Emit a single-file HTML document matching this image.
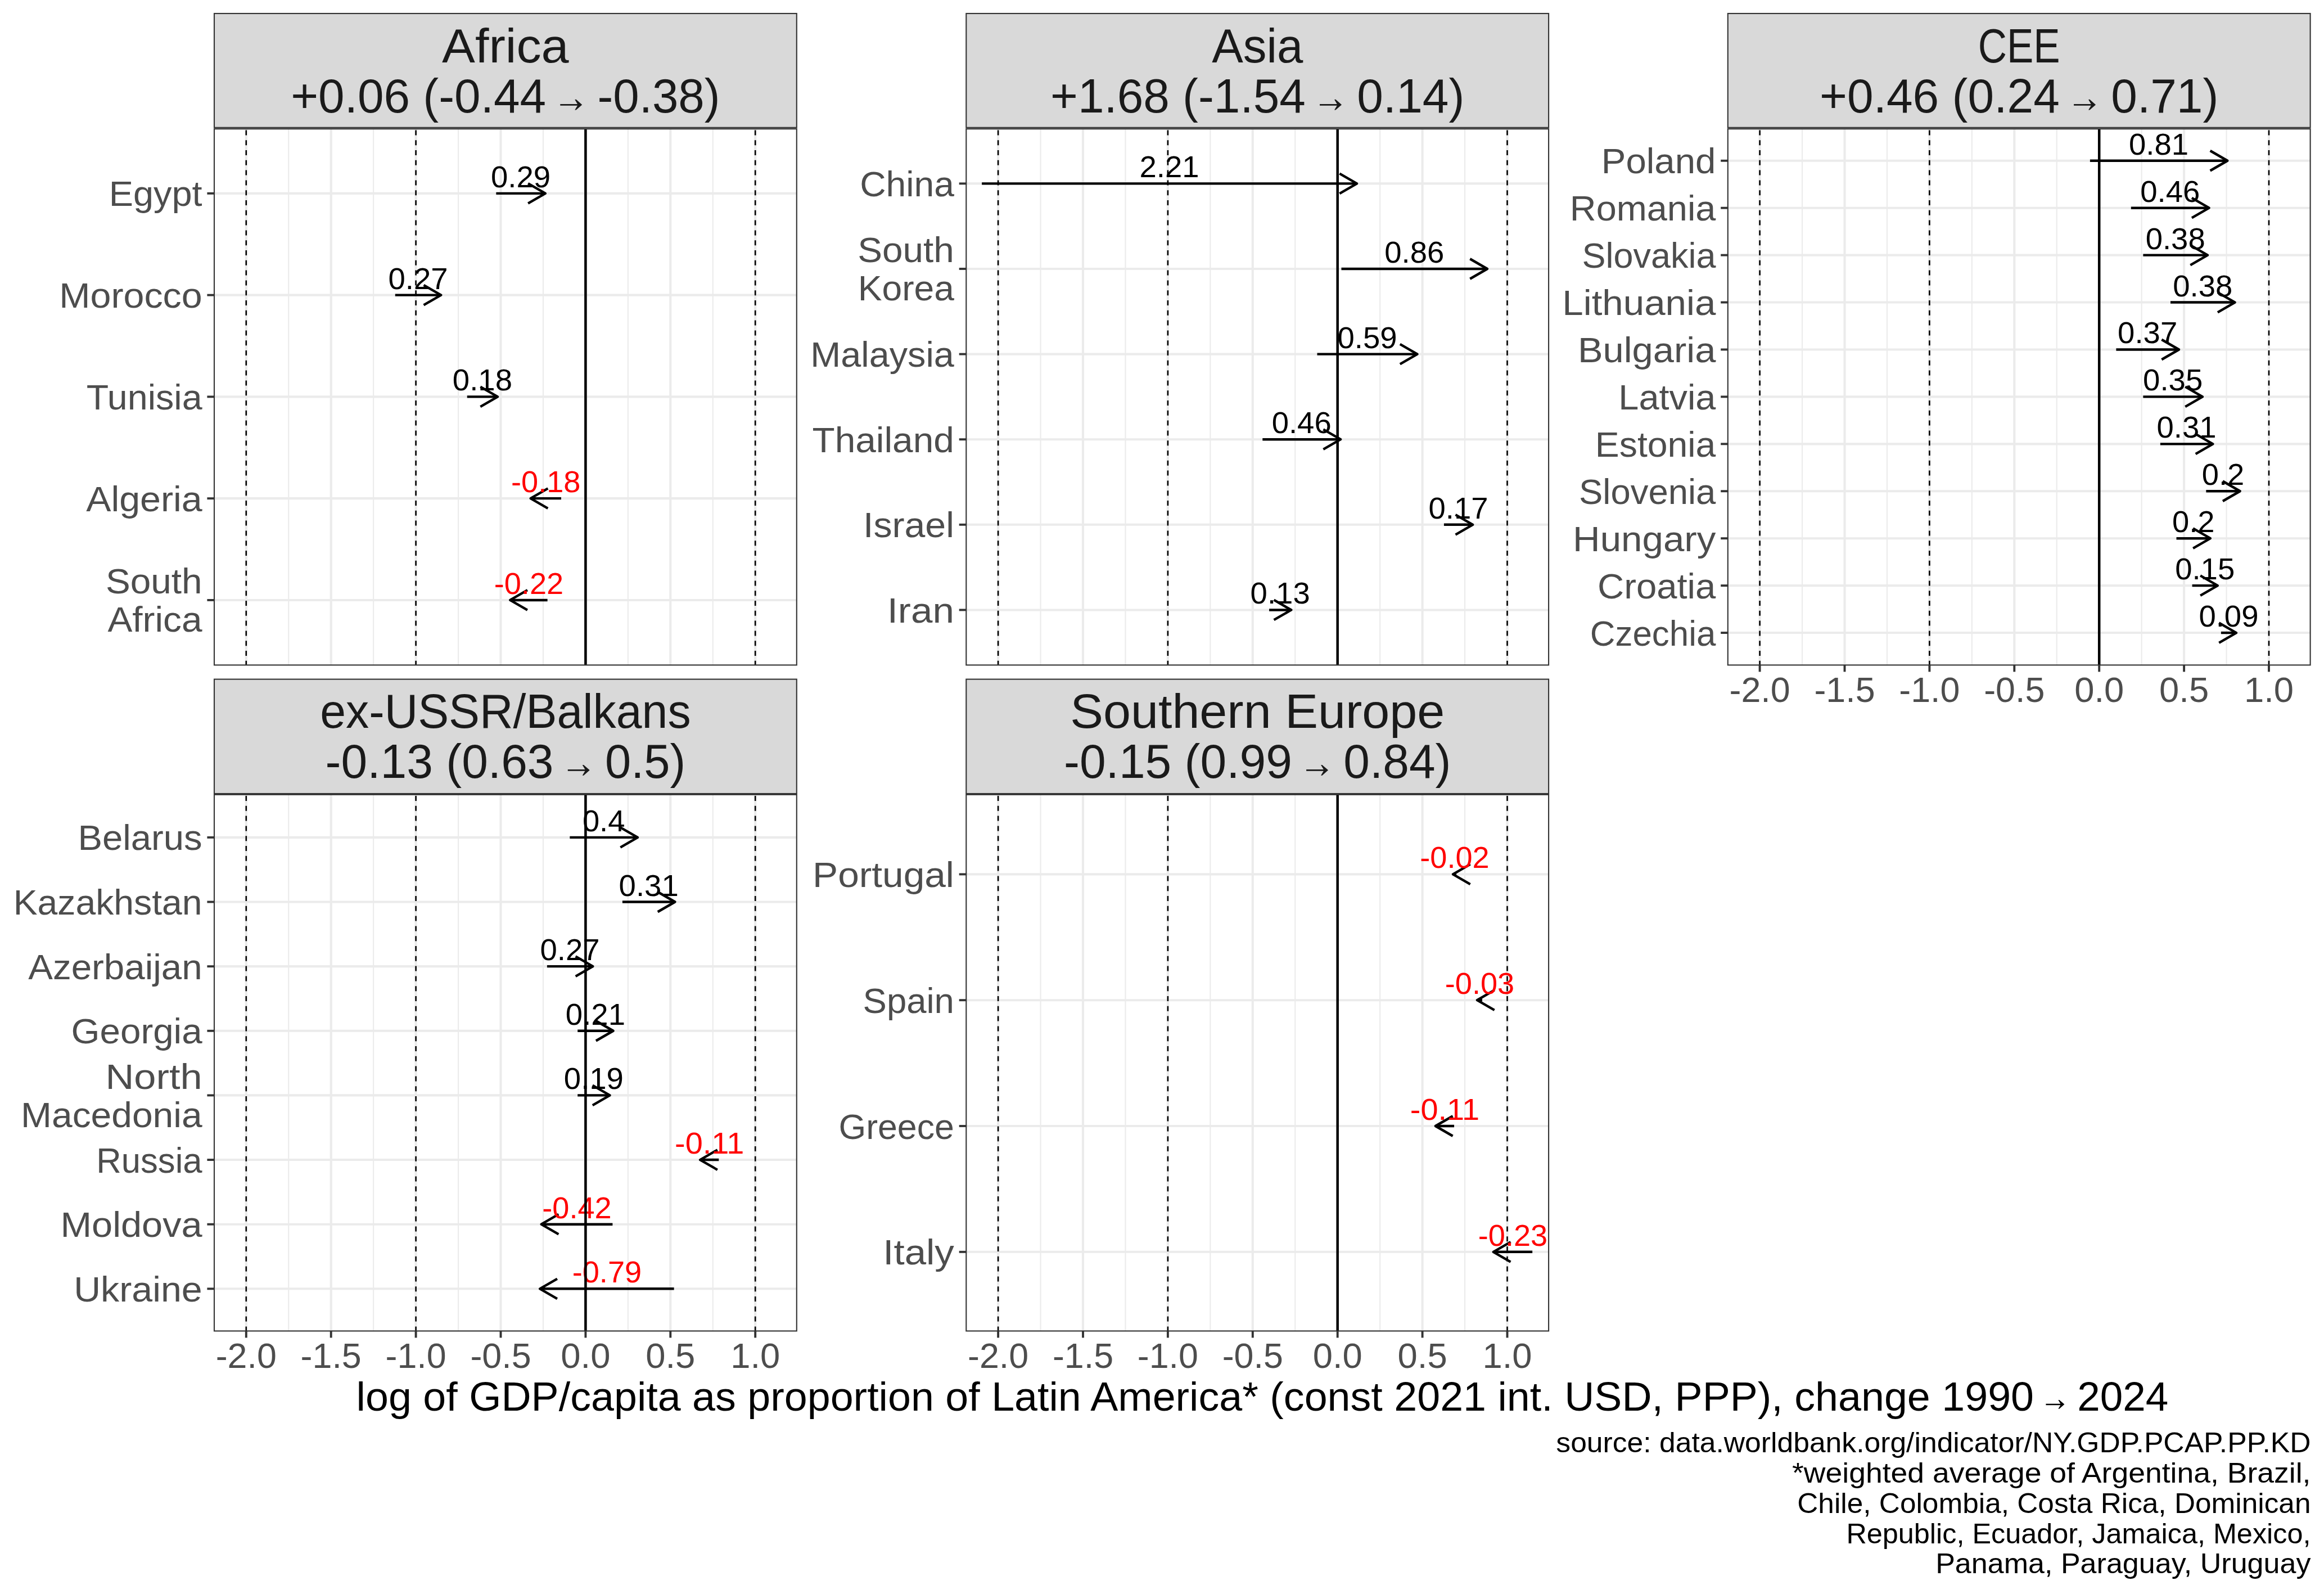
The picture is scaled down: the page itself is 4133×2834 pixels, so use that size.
<!DOCTYPE html>
<html><head><meta charset="utf-8"><title>GDP per capita chart</title>
<style>html,body{margin:0;padding:0;background:#fff;}svg{display:block;}</style>
</head><body>
<svg width="4133" height="2834" viewBox="0 0 4133 2834" font-family='"Liberation Sans", sans-serif'>
<rect x="0" y="0" width="4133" height="2834" fill="#FFFFFF"/>
<rect x="381" y="229.2" width="1035.8" height="953.2" fill="#FFFFFF"/>
<line x1="513.25" y1="229.2" x2="513.25" y2="1182.4" stroke="#EBEBEB" stroke-width="2.1"/>
<line x1="664.15" y1="229.2" x2="664.15" y2="1182.4" stroke="#EBEBEB" stroke-width="2.1"/>
<line x1="815.05" y1="229.2" x2="815.05" y2="1182.4" stroke="#EBEBEB" stroke-width="2.1"/>
<line x1="965.95" y1="229.2" x2="965.95" y2="1182.4" stroke="#EBEBEB" stroke-width="2.1"/>
<line x1="1116.85" y1="229.2" x2="1116.85" y2="1182.4" stroke="#EBEBEB" stroke-width="2.1"/>
<line x1="1267.75" y1="229.2" x2="1267.75" y2="1182.4" stroke="#EBEBEB" stroke-width="2.1"/>
<line x1="437.8" y1="229.2" x2="437.8" y2="1182.4" stroke="#EBEBEB" stroke-width="4.1"/>
<line x1="588.7" y1="229.2" x2="588.7" y2="1182.4" stroke="#EBEBEB" stroke-width="4.1"/>
<line x1="739.6" y1="229.2" x2="739.6" y2="1182.4" stroke="#EBEBEB" stroke-width="4.1"/>
<line x1="890.5" y1="229.2" x2="890.5" y2="1182.4" stroke="#EBEBEB" stroke-width="4.1"/>
<line x1="1041.4" y1="229.2" x2="1041.4" y2="1182.4" stroke="#EBEBEB" stroke-width="4.1"/>
<line x1="1192.3" y1="229.2" x2="1192.3" y2="1182.4" stroke="#EBEBEB" stroke-width="4.1"/>
<line x1="1343.2" y1="229.2" x2="1343.2" y2="1182.4" stroke="#EBEBEB" stroke-width="4.1"/>
<line x1="381" y1="343.86" x2="1416.8" y2="343.86" stroke="#EBEBEB" stroke-width="4.1"/>
<line x1="381" y1="524.63" x2="1416.8" y2="524.63" stroke="#EBEBEB" stroke-width="4.1"/>
<line x1="381" y1="705.4" x2="1416.8" y2="705.4" stroke="#EBEBEB" stroke-width="4.1"/>
<line x1="381" y1="886.17" x2="1416.8" y2="886.17" stroke="#EBEBEB" stroke-width="4.1"/>
<line x1="381" y1="1066.94" x2="1416.8" y2="1066.94" stroke="#EBEBEB" stroke-width="4.1"/>
<line x1="882.35" y1="343.86" x2="969.87" y2="343.86" stroke="#000000" stroke-width="4.4"/>
<polyline points="939.13,326.11 969.87,343.86 939.13,361.61" fill="none" stroke="#000000" stroke-width="4.4" stroke-linejoin="round"/>
<line x1="702.78" y1="524.63" x2="784.27" y2="524.63" stroke="#000000" stroke-width="4.4"/>
<polyline points="753.52,506.88 784.27,524.63 753.52,542.38" fill="none" stroke="#000000" stroke-width="4.4" stroke-linejoin="round"/>
<line x1="830.74" y1="705.4" x2="885.07" y2="705.4" stroke="#000000" stroke-width="4.4"/>
<polyline points="854.32,687.65 885.07,705.4 854.32,723.15" fill="none" stroke="#000000" stroke-width="4.4" stroke-linejoin="round"/>
<line x1="997.94" y1="886.17" x2="943.62" y2="886.17" stroke="#000000" stroke-width="4.4"/>
<polyline points="974.36,868.42 943.62,886.17 974.36,903.92" fill="none" stroke="#000000" stroke-width="4.4" stroke-linejoin="round"/>
<line x1="973.62" y1="1066.94" x2="907.22" y2="1066.94" stroke="#000000" stroke-width="4.4"/>
<polyline points="937.96,1049.19 907.22,1066.94 937.96,1084.69" fill="none" stroke="#000000" stroke-width="4.4" stroke-linejoin="round"/>
<text x="926.11" y="332.86" font-size="54.04" fill="#000000" text-anchor="middle" textLength="106.14" lengthAdjust="spacingAndGlyphs">0.29</text>
<text x="743.52" y="513.63" font-size="54.04" fill="#000000" text-anchor="middle" textLength="106.14" lengthAdjust="spacingAndGlyphs">0.27</text>
<text x="857.91" y="694.4" font-size="54.04" fill="#000000" text-anchor="middle" textLength="106.14" lengthAdjust="spacingAndGlyphs">0.18</text>
<text x="970.78" y="875.17" font-size="54.04" fill="#FF0000" text-anchor="middle" textLength="123.37" lengthAdjust="spacingAndGlyphs">-0.18</text>
<text x="940.42" y="1055.94" font-size="54.04" fill="#FF0000" text-anchor="middle" textLength="123.37" lengthAdjust="spacingAndGlyphs">-0.22</text>
<line x1="437.8" y1="231.4" x2="437.8" y2="1182.4" stroke="#000000" stroke-width="2.6" stroke-dasharray="9 8.8"/>
<line x1="739.6" y1="231.4" x2="739.6" y2="1182.4" stroke="#000000" stroke-width="2.6" stroke-dasharray="9 8.8"/>
<line x1="1343.2" y1="231.4" x2="1343.2" y2="1182.4" stroke="#000000" stroke-width="2.6" stroke-dasharray="9 8.8"/>
<line x1="1041.4" y1="229.2" x2="1041.4" y2="1182.4" stroke="#000000" stroke-width="4.5"/>
<rect x="381" y="229.2" width="1035.8" height="953.2" fill="none" stroke="#333333" stroke-width="2.1"/>
<rect x="381" y="24" width="1035.8" height="202.8" fill="#D9D9D9" stroke="#333333" stroke-width="2.1"/>
<text x="898.9" y="111.2" font-size="84.54" fill="#1A1A1A" text-anchor="middle" textLength="225.57" lengthAdjust="spacingAndGlyphs">Africa</text>
<text x="517.23" y="199.7" font-size="84.54" fill="#1A1A1A" text-anchor="start" textLength="453.82" lengthAdjust="spacingAndGlyphs">+0.06 (-0.44</text>
<path transform="translate(992.81 199.7) scale(83.7)" d="M0.0416,-0.176L0.408,-0.176L0.352,-0.271L0.379,-0.273L0.507,-0.162L0.379,-0.049L0.352,-0.049L0.408,-0.143L0.0416,-0.143Z" fill="#1A1A1A"/>
<text x="1062.45" y="199.7" font-size="84.54" fill="#1A1A1A" text-anchor="start" textLength="218.12" lengthAdjust="spacingAndGlyphs">-0.38)</text>
<line x1="368.4" y1="343.86" x2="381" y2="343.86" stroke="#333333" stroke-width="3.9"/>
<text x="359.6" y="366.36" font-size="63.02" fill="#4D4D4D" text-anchor="end" textLength="165.8" lengthAdjust="spacingAndGlyphs">Egypt</text>
<line x1="368.4" y1="524.63" x2="381" y2="524.63" stroke="#333333" stroke-width="3.9"/>
<text x="359.6" y="547.13" font-size="63.02" fill="#4D4D4D" text-anchor="end" textLength="254.28" lengthAdjust="spacingAndGlyphs">Morocco</text>
<line x1="368.4" y1="705.4" x2="381" y2="705.4" stroke="#333333" stroke-width="3.9"/>
<text x="359.6" y="727.9" font-size="63.02" fill="#4D4D4D" text-anchor="end" textLength="205.8" lengthAdjust="spacingAndGlyphs">Tunisia</text>
<line x1="368.4" y1="886.17" x2="381" y2="886.17" stroke="#333333" stroke-width="3.9"/>
<text x="359.6" y="908.67" font-size="63.02" fill="#4D4D4D" text-anchor="end" textLength="206.42" lengthAdjust="spacingAndGlyphs">Algeria</text>
<line x1="368.4" y1="1066.94" x2="381" y2="1066.94" stroke="#333333" stroke-width="3.9"/>
<text x="359.6" y="1055.44" font-size="63.02" fill="#4D4D4D" text-anchor="end" textLength="171.66" lengthAdjust="spacingAndGlyphs">South</text>
<text x="359.6" y="1123.44" font-size="63.02" fill="#4D4D4D" text-anchor="end" textLength="168.17" lengthAdjust="spacingAndGlyphs">Africa</text>
<rect x="1718.3" y="229.2" width="1035.8" height="953.2" fill="#FFFFFF"/>
<line x1="1850.55" y1="229.2" x2="1850.55" y2="1182.4" stroke="#EBEBEB" stroke-width="2.1"/>
<line x1="2001.45" y1="229.2" x2="2001.45" y2="1182.4" stroke="#EBEBEB" stroke-width="2.1"/>
<line x1="2152.35" y1="229.2" x2="2152.35" y2="1182.4" stroke="#EBEBEB" stroke-width="2.1"/>
<line x1="2303.25" y1="229.2" x2="2303.25" y2="1182.4" stroke="#EBEBEB" stroke-width="2.1"/>
<line x1="2454.15" y1="229.2" x2="2454.15" y2="1182.4" stroke="#EBEBEB" stroke-width="2.1"/>
<line x1="2605.05" y1="229.2" x2="2605.05" y2="1182.4" stroke="#EBEBEB" stroke-width="2.1"/>
<line x1="1775.1" y1="229.2" x2="1775.1" y2="1182.4" stroke="#EBEBEB" stroke-width="4.1"/>
<line x1="1926" y1="229.2" x2="1926" y2="1182.4" stroke="#EBEBEB" stroke-width="4.1"/>
<line x1="2076.9" y1="229.2" x2="2076.9" y2="1182.4" stroke="#EBEBEB" stroke-width="4.1"/>
<line x1="2227.8" y1="229.2" x2="2227.8" y2="1182.4" stroke="#EBEBEB" stroke-width="4.1"/>
<line x1="2378.7" y1="229.2" x2="2378.7" y2="1182.4" stroke="#EBEBEB" stroke-width="4.1"/>
<line x1="2529.6" y1="229.2" x2="2529.6" y2="1182.4" stroke="#EBEBEB" stroke-width="4.1"/>
<line x1="2680.5" y1="229.2" x2="2680.5" y2="1182.4" stroke="#EBEBEB" stroke-width="4.1"/>
<line x1="1718.3" y1="326.37" x2="2754.1" y2="326.37" stroke="#EBEBEB" stroke-width="4.1"/>
<line x1="1718.3" y1="477.98" x2="2754.1" y2="477.98" stroke="#EBEBEB" stroke-width="4.1"/>
<line x1="1718.3" y1="629.59" x2="2754.1" y2="629.59" stroke="#EBEBEB" stroke-width="4.1"/>
<line x1="1718.3" y1="781.21" x2="2754.1" y2="781.21" stroke="#EBEBEB" stroke-width="4.1"/>
<line x1="1718.3" y1="932.82" x2="2754.1" y2="932.82" stroke="#EBEBEB" stroke-width="4.1"/>
<line x1="1718.3" y1="1084.43" x2="2754.1" y2="1084.43" stroke="#EBEBEB" stroke-width="4.1"/>
<line x1="1746.13" y1="326.37" x2="2413.11" y2="326.37" stroke="#000000" stroke-width="4.4"/>
<polyline points="2382.36,308.62 2413.11,326.37 2382.36,344.12" fill="none" stroke="#000000" stroke-width="4.4" stroke-linejoin="round"/>
<line x1="2385.49" y1="477.98" x2="2645.04" y2="477.98" stroke="#000000" stroke-width="4.4"/>
<polyline points="2614.29,460.23 2645.04,477.98 2614.29,495.73" fill="none" stroke="#000000" stroke-width="4.4" stroke-linejoin="round"/>
<line x1="2342.48" y1="629.59" x2="2520.55" y2="629.59" stroke="#000000" stroke-width="4.4"/>
<polyline points="2489.8,611.84 2520.55,629.59 2489.8,647.34" fill="none" stroke="#000000" stroke-width="4.4" stroke-linejoin="round"/>
<line x1="2245.3" y1="781.21" x2="2384.13" y2="781.21" stroke="#000000" stroke-width="4.4"/>
<polyline points="2353.39,763.46 2384.13,781.21 2353.39,798.96" fill="none" stroke="#000000" stroke-width="4.4" stroke-linejoin="round"/>
<line x1="2567.93" y1="932.82" x2="2619.23" y2="932.82" stroke="#000000" stroke-width="4.4"/>
<polyline points="2588.49,915.07 2619.23,932.82 2588.49,950.57" fill="none" stroke="#000000" stroke-width="4.4" stroke-linejoin="round"/>
<line x1="2257.07" y1="1084.43" x2="2296.31" y2="1084.43" stroke="#000000" stroke-width="4.4"/>
<polyline points="2265.56,1066.68 2296.31,1084.43 2265.56,1102.18" fill="none" stroke="#000000" stroke-width="4.4" stroke-linejoin="round"/>
<text x="2079.62" y="315.37" font-size="54.04" fill="#000000" text-anchor="middle" textLength="106.14" lengthAdjust="spacingAndGlyphs">2.21</text>
<text x="2515.26" y="466.98" font-size="54.04" fill="#000000" text-anchor="middle" textLength="106.14" lengthAdjust="spacingAndGlyphs">0.86</text>
<text x="2431.51" y="618.59" font-size="54.04" fill="#000000" text-anchor="middle" textLength="106.14" lengthAdjust="spacingAndGlyphs">0.59</text>
<text x="2314.72" y="770.21" font-size="54.04" fill="#000000" text-anchor="middle" textLength="106.14" lengthAdjust="spacingAndGlyphs">0.46</text>
<text x="2593.58" y="921.82" font-size="54.04" fill="#000000" text-anchor="middle" textLength="106.14" lengthAdjust="spacingAndGlyphs">0.17</text>
<text x="2276.69" y="1073.43" font-size="54.04" fill="#000000" text-anchor="middle" textLength="106.14" lengthAdjust="spacingAndGlyphs">0.13</text>
<line x1="1775.1" y1="231.4" x2="1775.1" y2="1182.4" stroke="#000000" stroke-width="2.6" stroke-dasharray="9 8.8"/>
<line x1="2076.9" y1="231.4" x2="2076.9" y2="1182.4" stroke="#000000" stroke-width="2.6" stroke-dasharray="9 8.8"/>
<line x1="2680.5" y1="231.4" x2="2680.5" y2="1182.4" stroke="#000000" stroke-width="2.6" stroke-dasharray="9 8.8"/>
<line x1="2378.7" y1="229.2" x2="2378.7" y2="1182.4" stroke="#000000" stroke-width="4.5"/>
<rect x="1718.3" y="229.2" width="1035.8" height="953.2" fill="none" stroke="#333333" stroke-width="2.1"/>
<rect x="1718.3" y="24" width="1035.8" height="202.8" fill="#D9D9D9" stroke="#333333" stroke-width="2.1"/>
<text x="2236.2" y="111.2" font-size="84.54" fill="#1A1A1A" text-anchor="middle" textLength="162.13" lengthAdjust="spacingAndGlyphs">Asia</text>
<text x="1868" y="199.7" font-size="84.54" fill="#1A1A1A" text-anchor="start" textLength="453.82" lengthAdjust="spacingAndGlyphs">+1.68 (-1.54</text>
<path transform="translate(2343.59 199.7) scale(83.7)" d="M0.0416,-0.176L0.408,-0.176L0.352,-0.271L0.379,-0.273L0.507,-0.162L0.379,-0.049L0.352,-0.049L0.408,-0.143L0.0416,-0.143Z" fill="#1A1A1A"/>
<text x="2413.23" y="199.7" font-size="84.54" fill="#1A1A1A" text-anchor="start" textLength="191.17" lengthAdjust="spacingAndGlyphs">0.14)</text>
<line x1="1705.7" y1="326.37" x2="1718.3" y2="326.37" stroke="#333333" stroke-width="3.9"/>
<text x="1696.9" y="348.87" font-size="63.02" fill="#4D4D4D" text-anchor="end" textLength="167.67" lengthAdjust="spacingAndGlyphs">China</text>
<line x1="1705.7" y1="477.98" x2="1718.3" y2="477.98" stroke="#333333" stroke-width="3.9"/>
<text x="1696.9" y="466.48" font-size="63.02" fill="#4D4D4D" text-anchor="end" textLength="171.66" lengthAdjust="spacingAndGlyphs">South</text>
<text x="1696.9" y="534.48" font-size="63.02" fill="#4D4D4D" text-anchor="end" textLength="171.1" lengthAdjust="spacingAndGlyphs">Korea</text>
<line x1="1705.7" y1="629.59" x2="1718.3" y2="629.59" stroke="#333333" stroke-width="3.9"/>
<text x="1696.9" y="652.09" font-size="63.02" fill="#4D4D4D" text-anchor="end" textLength="255.53" lengthAdjust="spacingAndGlyphs">Malaysia</text>
<line x1="1705.7" y1="781.21" x2="1718.3" y2="781.21" stroke="#333333" stroke-width="3.9"/>
<text x="1696.9" y="803.71" font-size="63.02" fill="#4D4D4D" text-anchor="end" textLength="252.41" lengthAdjust="spacingAndGlyphs">Thailand</text>
<line x1="1705.7" y1="932.82" x2="1718.3" y2="932.82" stroke="#333333" stroke-width="3.9"/>
<text x="1696.9" y="955.32" font-size="63.02" fill="#4D4D4D" text-anchor="end" textLength="161.87" lengthAdjust="spacingAndGlyphs">Israel</text>
<line x1="1705.7" y1="1084.43" x2="1718.3" y2="1084.43" stroke="#333333" stroke-width="3.9"/>
<text x="1696.9" y="1106.93" font-size="63.02" fill="#4D4D4D" text-anchor="end" textLength="119.25" lengthAdjust="spacingAndGlyphs">Iran</text>
<rect x="3072.8" y="229.2" width="1035.8" height="953.2" fill="#FFFFFF"/>
<line x1="3205.05" y1="229.2" x2="3205.05" y2="1182.4" stroke="#EBEBEB" stroke-width="2.1"/>
<line x1="3355.95" y1="229.2" x2="3355.95" y2="1182.4" stroke="#EBEBEB" stroke-width="2.1"/>
<line x1="3506.85" y1="229.2" x2="3506.85" y2="1182.4" stroke="#EBEBEB" stroke-width="2.1"/>
<line x1="3657.75" y1="229.2" x2="3657.75" y2="1182.4" stroke="#EBEBEB" stroke-width="2.1"/>
<line x1="3808.65" y1="229.2" x2="3808.65" y2="1182.4" stroke="#EBEBEB" stroke-width="2.1"/>
<line x1="3959.55" y1="229.2" x2="3959.55" y2="1182.4" stroke="#EBEBEB" stroke-width="2.1"/>
<line x1="3129.6" y1="229.2" x2="3129.6" y2="1182.4" stroke="#EBEBEB" stroke-width="4.1"/>
<line x1="3280.5" y1="229.2" x2="3280.5" y2="1182.4" stroke="#EBEBEB" stroke-width="4.1"/>
<line x1="3431.4" y1="229.2" x2="3431.4" y2="1182.4" stroke="#EBEBEB" stroke-width="4.1"/>
<line x1="3582.3" y1="229.2" x2="3582.3" y2="1182.4" stroke="#EBEBEB" stroke-width="4.1"/>
<line x1="3733.2" y1="229.2" x2="3733.2" y2="1182.4" stroke="#EBEBEB" stroke-width="4.1"/>
<line x1="3884.1" y1="229.2" x2="3884.1" y2="1182.4" stroke="#EBEBEB" stroke-width="4.1"/>
<line x1="4035" y1="229.2" x2="4035" y2="1182.4" stroke="#EBEBEB" stroke-width="4.1"/>
<line x1="3072.8" y1="285.76" x2="4108.6" y2="285.76" stroke="#EBEBEB" stroke-width="4.1"/>
<line x1="3072.8" y1="369.69" x2="4108.6" y2="369.69" stroke="#EBEBEB" stroke-width="4.1"/>
<line x1="3072.8" y1="453.61" x2="4108.6" y2="453.61" stroke="#EBEBEB" stroke-width="4.1"/>
<line x1="3072.8" y1="537.54" x2="4108.6" y2="537.54" stroke="#EBEBEB" stroke-width="4.1"/>
<line x1="3072.8" y1="621.47" x2="4108.6" y2="621.47" stroke="#EBEBEB" stroke-width="4.1"/>
<line x1="3072.8" y1="705.4" x2="4108.6" y2="705.4" stroke="#EBEBEB" stroke-width="4.1"/>
<line x1="3072.8" y1="789.33" x2="4108.6" y2="789.33" stroke="#EBEBEB" stroke-width="4.1"/>
<line x1="3072.8" y1="873.26" x2="4108.6" y2="873.26" stroke="#EBEBEB" stroke-width="4.1"/>
<line x1="3072.8" y1="957.19" x2="4108.6" y2="957.19" stroke="#EBEBEB" stroke-width="4.1"/>
<line x1="3072.8" y1="1041.11" x2="4108.6" y2="1041.11" stroke="#EBEBEB" stroke-width="4.1"/>
<line x1="3072.8" y1="1125.04" x2="4108.6" y2="1125.04" stroke="#EBEBEB" stroke-width="4.1"/>
<line x1="3716.9" y1="285.76" x2="3961.36" y2="285.76" stroke="#000000" stroke-width="4.4"/>
<polyline points="3930.62,268.01 3961.36,285.76 3930.62,303.51" fill="none" stroke="#000000" stroke-width="4.4" stroke-linejoin="round"/>
<line x1="3789.82" y1="369.69" x2="3928.65" y2="369.69" stroke="#000000" stroke-width="4.4"/>
<polyline points="3897.9,351.94 3928.65,369.69 3897.9,387.44" fill="none" stroke="#000000" stroke-width="4.4" stroke-linejoin="round"/>
<line x1="3811.37" y1="453.61" x2="3926.05" y2="453.61" stroke="#000000" stroke-width="4.4"/>
<polyline points="3895.31,435.86 3926.05,453.61 3895.31,471.36" fill="none" stroke="#000000" stroke-width="4.4" stroke-linejoin="round"/>
<line x1="3859.96" y1="537.54" x2="3974.64" y2="537.54" stroke="#000000" stroke-width="4.4"/>
<polyline points="3943.9,519.79 3974.64,537.54 3943.9,555.29" fill="none" stroke="#000000" stroke-width="4.4" stroke-linejoin="round"/>
<line x1="3763.38" y1="621.47" x2="3875.05" y2="621.47" stroke="#000000" stroke-width="4.4"/>
<polyline points="3844.3,603.72 3875.05,621.47 3844.3,639.22" fill="none" stroke="#000000" stroke-width="4.4" stroke-linejoin="round"/>
<line x1="3811.37" y1="705.4" x2="3917" y2="705.4" stroke="#000000" stroke-width="4.4"/>
<polyline points="3886.25,687.65 3917,705.4 3886.25,723.15" fill="none" stroke="#000000" stroke-width="4.4" stroke-linejoin="round"/>
<line x1="3841.85" y1="789.33" x2="3935.41" y2="789.33" stroke="#000000" stroke-width="4.4"/>
<polyline points="3904.66,771.58 3935.41,789.33 3904.66,807.08" fill="none" stroke="#000000" stroke-width="4.4" stroke-linejoin="round"/>
<line x1="3923.33" y1="873.26" x2="3983.69" y2="873.26" stroke="#000000" stroke-width="4.4"/>
<polyline points="3952.95,855.51 3983.69,873.26 3952.95,891.01" fill="none" stroke="#000000" stroke-width="4.4" stroke-linejoin="round"/>
<line x1="3870.52" y1="957.19" x2="3930.88" y2="957.19" stroke="#000000" stroke-width="4.4"/>
<polyline points="3900.14,939.44 3930.88,957.19 3900.14,974.94" fill="none" stroke="#000000" stroke-width="4.4" stroke-linejoin="round"/>
<line x1="3898.59" y1="1041.11" x2="3943.86" y2="1041.11" stroke="#000000" stroke-width="4.4"/>
<polyline points="3913.11,1023.36 3943.86,1041.11 3913.11,1058.86" fill="none" stroke="#000000" stroke-width="4.4" stroke-linejoin="round"/>
<line x1="3949.89" y1="1125.04" x2="3977.05" y2="1125.04" stroke="#000000" stroke-width="4.4"/>
<polyline points="3946.31,1107.29 3977.05,1125.04 3946.31,1142.79" fill="none" stroke="#000000" stroke-width="4.4" stroke-linejoin="round"/>
<text x="3839.13" y="274.76" font-size="54.04" fill="#000000" text-anchor="middle" textLength="106.14" lengthAdjust="spacingAndGlyphs">0.81</text>
<text x="3859.23" y="358.69" font-size="54.04" fill="#000000" text-anchor="middle" textLength="106.14" lengthAdjust="spacingAndGlyphs">0.46</text>
<text x="3868.71" y="442.61" font-size="54.04" fill="#000000" text-anchor="middle" textLength="106.14" lengthAdjust="spacingAndGlyphs">0.38</text>
<text x="3917.3" y="526.54" font-size="54.04" fill="#000000" text-anchor="middle" textLength="106.14" lengthAdjust="spacingAndGlyphs">0.38</text>
<text x="3819.21" y="610.47" font-size="54.04" fill="#000000" text-anchor="middle" textLength="106.14" lengthAdjust="spacingAndGlyphs">0.37</text>
<text x="3864.18" y="694.4" font-size="54.04" fill="#000000" text-anchor="middle" textLength="106.14" lengthAdjust="spacingAndGlyphs">0.35</text>
<text x="3888.63" y="778.33" font-size="54.04" fill="#000000" text-anchor="middle" textLength="106.14" lengthAdjust="spacingAndGlyphs">0.31</text>
<text x="3953.51" y="862.26" font-size="54.04" fill="#000000" text-anchor="middle" textLength="75.54" lengthAdjust="spacingAndGlyphs">0.2</text>
<text x="3900.7" y="946.19" font-size="54.04" fill="#000000" text-anchor="middle" textLength="75.54" lengthAdjust="spacingAndGlyphs">0.2</text>
<text x="3921.22" y="1030.11" font-size="54.04" fill="#000000" text-anchor="middle" textLength="106.14" lengthAdjust="spacingAndGlyphs">0.15</text>
<text x="3963.47" y="1114.04" font-size="54.04" fill="#000000" text-anchor="middle" textLength="106.14" lengthAdjust="spacingAndGlyphs">0.09</text>
<line x1="3129.6" y1="231.4" x2="3129.6" y2="1182.4" stroke="#000000" stroke-width="2.6" stroke-dasharray="9 8.8"/>
<line x1="3431.4" y1="231.4" x2="3431.4" y2="1182.4" stroke="#000000" stroke-width="2.6" stroke-dasharray="9 8.8"/>
<line x1="4035" y1="231.4" x2="4035" y2="1182.4" stroke="#000000" stroke-width="2.6" stroke-dasharray="9 8.8"/>
<line x1="3733.2" y1="229.2" x2="3733.2" y2="1182.4" stroke="#000000" stroke-width="4.5"/>
<rect x="3072.8" y="229.2" width="1035.8" height="953.2" fill="none" stroke="#333333" stroke-width="2.1"/>
<rect x="3072.8" y="24" width="1035.8" height="202.8" fill="#D9D9D9" stroke="#333333" stroke-width="2.1"/>
<text x="3590.7" y="111.2" font-size="84.54" fill="#1A1A1A" text-anchor="middle" textLength="145.97" lengthAdjust="spacingAndGlyphs">CEE</text>
<text x="3235.98" y="199.7" font-size="84.54" fill="#1A1A1A" text-anchor="start" textLength="426.87" lengthAdjust="spacingAndGlyphs">+0.46 (0.24</text>
<path transform="translate(3684.61 199.7) scale(83.7)" d="M0.0416,-0.176L0.408,-0.176L0.352,-0.271L0.379,-0.273L0.507,-0.162L0.379,-0.049L0.352,-0.049L0.408,-0.143L0.0416,-0.143Z" fill="#1A1A1A"/>
<text x="3754.25" y="199.7" font-size="84.54" fill="#1A1A1A" text-anchor="start" textLength="191.17" lengthAdjust="spacingAndGlyphs">0.71)</text>
<line x1="3060.2" y1="285.76" x2="3072.8" y2="285.76" stroke="#333333" stroke-width="3.9"/>
<text x="3051.4" y="308.26" font-size="63.02" fill="#4D4D4D" text-anchor="end" textLength="203.55" lengthAdjust="spacingAndGlyphs">Poland</text>
<line x1="3060.2" y1="369.69" x2="3072.8" y2="369.69" stroke="#333333" stroke-width="3.9"/>
<text x="3051.4" y="392.19" font-size="63.02" fill="#4D4D4D" text-anchor="end" textLength="259.58" lengthAdjust="spacingAndGlyphs">Romania</text>
<line x1="3060.2" y1="453.61" x2="3072.8" y2="453.61" stroke="#333333" stroke-width="3.9"/>
<text x="3051.4" y="476.11" font-size="63.02" fill="#4D4D4D" text-anchor="end" textLength="237.99" lengthAdjust="spacingAndGlyphs">Slovakia</text>
<line x1="3060.2" y1="537.54" x2="3072.8" y2="537.54" stroke="#333333" stroke-width="3.9"/>
<text x="3051.4" y="560.04" font-size="63.02" fill="#4D4D4D" text-anchor="end" textLength="273.12" lengthAdjust="spacingAndGlyphs">Lithuania</text>
<line x1="3060.2" y1="621.47" x2="3072.8" y2="621.47" stroke="#333333" stroke-width="3.9"/>
<text x="3051.4" y="643.97" font-size="63.02" fill="#4D4D4D" text-anchor="end" textLength="245.48" lengthAdjust="spacingAndGlyphs">Bulgaria</text>
<line x1="3060.2" y1="705.4" x2="3072.8" y2="705.4" stroke="#333333" stroke-width="3.9"/>
<text x="3051.4" y="727.9" font-size="63.02" fill="#4D4D4D" text-anchor="end" textLength="173.04" lengthAdjust="spacingAndGlyphs">Latvia</text>
<line x1="3060.2" y1="789.33" x2="3072.8" y2="789.33" stroke="#333333" stroke-width="3.9"/>
<text x="3051.4" y="811.83" font-size="63.02" fill="#4D4D4D" text-anchor="end" textLength="214.53" lengthAdjust="spacingAndGlyphs">Estonia</text>
<line x1="3060.2" y1="873.26" x2="3072.8" y2="873.26" stroke="#333333" stroke-width="3.9"/>
<text x="3051.4" y="895.76" font-size="63.02" fill="#4D4D4D" text-anchor="end" textLength="243.42" lengthAdjust="spacingAndGlyphs">Slovenia</text>
<line x1="3060.2" y1="957.19" x2="3072.8" y2="957.19" stroke="#333333" stroke-width="3.9"/>
<text x="3051.4" y="979.69" font-size="63.02" fill="#4D4D4D" text-anchor="end" textLength="254.34" lengthAdjust="spacingAndGlyphs">Hungary</text>
<line x1="3060.2" y1="1041.11" x2="3072.8" y2="1041.11" stroke="#333333" stroke-width="3.9"/>
<text x="3051.4" y="1063.61" font-size="63.02" fill="#4D4D4D" text-anchor="end" textLength="210.35" lengthAdjust="spacingAndGlyphs">Croatia</text>
<line x1="3060.2" y1="1125.04" x2="3072.8" y2="1125.04" stroke="#333333" stroke-width="3.9"/>
<text x="3051.4" y="1147.54" font-size="63.02" fill="#4D4D4D" text-anchor="end" textLength="223.58" lengthAdjust="spacingAndGlyphs">Czechia</text>
<line x1="3129.6" y1="1182.4" x2="3129.6" y2="1194.4" stroke="#333333" stroke-width="3.9"/>
<text x="3129.6" y="1248.4" font-size="63.02" fill="#4D4D4D" text-anchor="middle" textLength="108.2" lengthAdjust="spacingAndGlyphs">-2.0</text>
<line x1="3280.5" y1="1182.4" x2="3280.5" y2="1194.4" stroke="#333333" stroke-width="3.9"/>
<text x="3280.5" y="1248.4" font-size="63.02" fill="#4D4D4D" text-anchor="middle" textLength="108.2" lengthAdjust="spacingAndGlyphs">-1.5</text>
<line x1="3431.4" y1="1182.4" x2="3431.4" y2="1194.4" stroke="#333333" stroke-width="3.9"/>
<text x="3431.4" y="1248.4" font-size="63.02" fill="#4D4D4D" text-anchor="middle" textLength="108.2" lengthAdjust="spacingAndGlyphs">-1.0</text>
<line x1="3582.3" y1="1182.4" x2="3582.3" y2="1194.4" stroke="#333333" stroke-width="3.9"/>
<text x="3582.3" y="1248.4" font-size="63.02" fill="#4D4D4D" text-anchor="middle" textLength="108.2" lengthAdjust="spacingAndGlyphs">-0.5</text>
<line x1="3733.2" y1="1182.4" x2="3733.2" y2="1194.4" stroke="#333333" stroke-width="3.9"/>
<text x="3733.2" y="1248.4" font-size="63.02" fill="#4D4D4D" text-anchor="middle" textLength="88.11" lengthAdjust="spacingAndGlyphs">0.0</text>
<line x1="3884.1" y1="1182.4" x2="3884.1" y2="1194.4" stroke="#333333" stroke-width="3.9"/>
<text x="3884.1" y="1248.4" font-size="63.02" fill="#4D4D4D" text-anchor="middle" textLength="88.11" lengthAdjust="spacingAndGlyphs">0.5</text>
<line x1="4035" y1="1182.4" x2="4035" y2="1194.4" stroke="#333333" stroke-width="3.9"/>
<text x="4035" y="1248.4" font-size="63.02" fill="#4D4D4D" text-anchor="middle" textLength="88.11" lengthAdjust="spacingAndGlyphs">1.0</text>
<rect x="381" y="1412.8" width="1035.8" height="953.6" fill="#FFFFFF"/>
<line x1="513.25" y1="1412.8" x2="513.25" y2="2366.4" stroke="#EBEBEB" stroke-width="2.1"/>
<line x1="664.15" y1="1412.8" x2="664.15" y2="2366.4" stroke="#EBEBEB" stroke-width="2.1"/>
<line x1="815.05" y1="1412.8" x2="815.05" y2="2366.4" stroke="#EBEBEB" stroke-width="2.1"/>
<line x1="965.95" y1="1412.8" x2="965.95" y2="2366.4" stroke="#EBEBEB" stroke-width="2.1"/>
<line x1="1116.85" y1="1412.8" x2="1116.85" y2="2366.4" stroke="#EBEBEB" stroke-width="2.1"/>
<line x1="1267.75" y1="1412.8" x2="1267.75" y2="2366.4" stroke="#EBEBEB" stroke-width="2.1"/>
<line x1="437.8" y1="1412.8" x2="437.8" y2="2366.4" stroke="#EBEBEB" stroke-width="4.1"/>
<line x1="588.7" y1="1412.8" x2="588.7" y2="2366.4" stroke="#EBEBEB" stroke-width="4.1"/>
<line x1="739.6" y1="1412.8" x2="739.6" y2="2366.4" stroke="#EBEBEB" stroke-width="4.1"/>
<line x1="890.5" y1="1412.8" x2="890.5" y2="2366.4" stroke="#EBEBEB" stroke-width="4.1"/>
<line x1="1041.4" y1="1412.8" x2="1041.4" y2="2366.4" stroke="#EBEBEB" stroke-width="4.1"/>
<line x1="1192.3" y1="1412.8" x2="1192.3" y2="2366.4" stroke="#EBEBEB" stroke-width="4.1"/>
<line x1="1343.2" y1="1412.8" x2="1343.2" y2="2366.4" stroke="#EBEBEB" stroke-width="4.1"/>
<line x1="381" y1="1488.88" x2="1416.8" y2="1488.88" stroke="#EBEBEB" stroke-width="4.1"/>
<line x1="381" y1="1603.51" x2="1416.8" y2="1603.51" stroke="#EBEBEB" stroke-width="4.1"/>
<line x1="381" y1="1718.15" x2="1416.8" y2="1718.15" stroke="#EBEBEB" stroke-width="4.1"/>
<line x1="381" y1="1832.78" x2="1416.8" y2="1832.78" stroke="#EBEBEB" stroke-width="4.1"/>
<line x1="381" y1="1947.42" x2="1416.8" y2="1947.42" stroke="#EBEBEB" stroke-width="4.1"/>
<line x1="381" y1="2062.05" x2="1416.8" y2="2062.05" stroke="#EBEBEB" stroke-width="4.1"/>
<line x1="381" y1="2176.69" x2="1416.8" y2="2176.69" stroke="#EBEBEB" stroke-width="4.1"/>
<line x1="381" y1="2291.32" x2="1416.8" y2="2291.32" stroke="#EBEBEB" stroke-width="4.1"/>
<line x1="1013.33" y1="1488.88" x2="1134.05" y2="1488.88" stroke="#000000" stroke-width="4.4"/>
<polyline points="1103.31,1471.13 1134.05,1488.88 1103.31,1506.63" fill="none" stroke="#000000" stroke-width="4.4" stroke-linejoin="round"/>
<line x1="1106.89" y1="1603.51" x2="1200.45" y2="1603.51" stroke="#000000" stroke-width="4.4"/>
<polyline points="1169.7,1585.76 1200.45,1603.51 1169.7,1621.26" fill="none" stroke="#000000" stroke-width="4.4" stroke-linejoin="round"/>
<line x1="972.89" y1="1718.15" x2="1054.38" y2="1718.15" stroke="#000000" stroke-width="4.4"/>
<polyline points="1023.63,1700.4 1054.38,1718.15 1023.63,1735.9" fill="none" stroke="#000000" stroke-width="4.4" stroke-linejoin="round"/>
<line x1="1027.22" y1="1832.78" x2="1090.59" y2="1832.78" stroke="#000000" stroke-width="4.4"/>
<polyline points="1059.85,1815.03 1090.59,1832.78 1059.85,1850.53" fill="none" stroke="#000000" stroke-width="4.4" stroke-linejoin="round"/>
<line x1="1027.22" y1="1947.42" x2="1084.56" y2="1947.42" stroke="#000000" stroke-width="4.4"/>
<polyline points="1053.81,1929.67 1084.56,1947.42 1053.81,1965.17" fill="none" stroke="#000000" stroke-width="4.4" stroke-linejoin="round"/>
<line x1="1278.31" y1="2062.05" x2="1245.12" y2="2062.05" stroke="#000000" stroke-width="4.4"/>
<polyline points="1275.86,2044.3 1245.12,2062.05 1275.86,2079.8" fill="none" stroke="#000000" stroke-width="4.4" stroke-linejoin="round"/>
<line x1="1089.39" y1="2176.69" x2="962.63" y2="2176.69" stroke="#000000" stroke-width="4.4"/>
<polyline points="993.37,2158.94 962.63,2176.69 993.37,2194.44" fill="none" stroke="#000000" stroke-width="4.4" stroke-linejoin="round"/>
<line x1="1198.64" y1="2291.32" x2="960.22" y2="2291.32" stroke="#000000" stroke-width="4.4"/>
<polyline points="990.96,2273.57 960.22,2291.32 990.96,2309.07" fill="none" stroke="#000000" stroke-width="4.4" stroke-linejoin="round"/>
<text x="1073.69" y="1477.88" font-size="54.04" fill="#000000" text-anchor="middle" textLength="75.54" lengthAdjust="spacingAndGlyphs">0.4</text>
<text x="1153.67" y="1592.51" font-size="54.04" fill="#000000" text-anchor="middle" textLength="106.14" lengthAdjust="spacingAndGlyphs">0.31</text>
<text x="1013.63" y="1707.15" font-size="54.04" fill="#000000" text-anchor="middle" textLength="106.14" lengthAdjust="spacingAndGlyphs">0.27</text>
<text x="1058.9" y="1821.78" font-size="54.04" fill="#000000" text-anchor="middle" textLength="106.14" lengthAdjust="spacingAndGlyphs">0.21</text>
<text x="1055.89" y="1936.42" font-size="54.04" fill="#000000" text-anchor="middle" textLength="106.14" lengthAdjust="spacingAndGlyphs">0.19</text>
<text x="1261.71" y="2051.05" font-size="54.04" fill="#FF0000" text-anchor="middle" textLength="123.37" lengthAdjust="spacingAndGlyphs">-0.11</text>
<text x="1026.01" y="2165.69" font-size="54.04" fill="#FF0000" text-anchor="middle" textLength="123.37" lengthAdjust="spacingAndGlyphs">-0.42</text>
<text x="1079.43" y="2280.32" font-size="54.04" fill="#FF0000" text-anchor="middle" textLength="123.37" lengthAdjust="spacingAndGlyphs">-0.79</text>
<line x1="437.8" y1="1415" x2="437.8" y2="2366.4" stroke="#000000" stroke-width="2.6" stroke-dasharray="9 8.8"/>
<line x1="739.6" y1="1415" x2="739.6" y2="2366.4" stroke="#000000" stroke-width="2.6" stroke-dasharray="9 8.8"/>
<line x1="1343.2" y1="1415" x2="1343.2" y2="2366.4" stroke="#000000" stroke-width="2.6" stroke-dasharray="9 8.8"/>
<line x1="1041.4" y1="1412.8" x2="1041.4" y2="2366.4" stroke="#000000" stroke-width="4.5"/>
<rect x="381" y="1412.8" width="1035.8" height="953.6" fill="none" stroke="#333333" stroke-width="2.1"/>
<rect x="381" y="1207.6" width="1035.8" height="203.4" fill="#D9D9D9" stroke="#333333" stroke-width="2.1"/>
<text x="898.9" y="1294" font-size="84.54" fill="#1A1A1A" text-anchor="middle" textLength="659.47" lengthAdjust="spacingAndGlyphs">ex-USSR/Balkans</text>
<text x="578.58" y="1382.8" font-size="84.54" fill="#1A1A1A" text-anchor="start" textLength="405.94" lengthAdjust="spacingAndGlyphs">-0.13 (0.63</text>
<path transform="translate(1006.29 1382.8) scale(83.7)" d="M0.0416,-0.176L0.408,-0.176L0.352,-0.271L0.379,-0.273L0.507,-0.162L0.379,-0.049L0.352,-0.049L0.408,-0.143L0.0416,-0.143Z" fill="#1A1A1A"/>
<text x="1075.93" y="1382.8" font-size="84.54" fill="#1A1A1A" text-anchor="start" textLength="143.29" lengthAdjust="spacingAndGlyphs">0.5)</text>
<line x1="368.4" y1="1488.88" x2="381" y2="1488.88" stroke="#333333" stroke-width="3.9"/>
<text x="359.6" y="1511.38" font-size="63.02" fill="#4D4D4D" text-anchor="end" textLength="221.08" lengthAdjust="spacingAndGlyphs">Belarus</text>
<line x1="368.4" y1="1603.51" x2="381" y2="1603.51" stroke="#333333" stroke-width="3.9"/>
<text x="359.6" y="1626.01" font-size="63.02" fill="#4D4D4D" text-anchor="end" textLength="335.84" lengthAdjust="spacingAndGlyphs">Kazakhstan</text>
<line x1="368.4" y1="1718.15" x2="381" y2="1718.15" stroke="#333333" stroke-width="3.9"/>
<text x="359.6" y="1740.65" font-size="63.02" fill="#4D4D4D" text-anchor="end" textLength="309.32" lengthAdjust="spacingAndGlyphs">Azerbaijan</text>
<line x1="368.4" y1="1832.78" x2="381" y2="1832.78" stroke="#333333" stroke-width="3.9"/>
<text x="359.6" y="1855.28" font-size="63.02" fill="#4D4D4D" text-anchor="end" textLength="233" lengthAdjust="spacingAndGlyphs">Georgia</text>
<line x1="368.4" y1="1947.42" x2="381" y2="1947.42" stroke="#333333" stroke-width="3.9"/>
<text x="359.6" y="1935.92" font-size="63.02" fill="#4D4D4D" text-anchor="end" textLength="172.04" lengthAdjust="spacingAndGlyphs">North</text>
<text x="359.6" y="2003.92" font-size="63.02" fill="#4D4D4D" text-anchor="end" textLength="322.55" lengthAdjust="spacingAndGlyphs">Macedonia</text>
<line x1="368.4" y1="2062.05" x2="381" y2="2062.05" stroke="#333333" stroke-width="3.9"/>
<text x="359.6" y="2084.55" font-size="63.02" fill="#4D4D4D" text-anchor="end" textLength="188.26" lengthAdjust="spacingAndGlyphs">Russia</text>
<line x1="368.4" y1="2176.69" x2="381" y2="2176.69" stroke="#333333" stroke-width="3.9"/>
<text x="359.6" y="2199.19" font-size="63.02" fill="#4D4D4D" text-anchor="end" textLength="252.03" lengthAdjust="spacingAndGlyphs">Moldova</text>
<line x1="368.4" y1="2291.32" x2="381" y2="2291.32" stroke="#333333" stroke-width="3.9"/>
<text x="359.6" y="2313.82" font-size="63.02" fill="#4D4D4D" text-anchor="end" textLength="228.32" lengthAdjust="spacingAndGlyphs">Ukraine</text>
<line x1="437.8" y1="2366.4" x2="437.8" y2="2378.4" stroke="#333333" stroke-width="3.9"/>
<text x="437.8" y="2432.4" font-size="63.02" fill="#4D4D4D" text-anchor="middle" textLength="108.2" lengthAdjust="spacingAndGlyphs">-2.0</text>
<line x1="588.7" y1="2366.4" x2="588.7" y2="2378.4" stroke="#333333" stroke-width="3.9"/>
<text x="588.7" y="2432.4" font-size="63.02" fill="#4D4D4D" text-anchor="middle" textLength="108.2" lengthAdjust="spacingAndGlyphs">-1.5</text>
<line x1="739.6" y1="2366.4" x2="739.6" y2="2378.4" stroke="#333333" stroke-width="3.9"/>
<text x="739.6" y="2432.4" font-size="63.02" fill="#4D4D4D" text-anchor="middle" textLength="108.2" lengthAdjust="spacingAndGlyphs">-1.0</text>
<line x1="890.5" y1="2366.4" x2="890.5" y2="2378.4" stroke="#333333" stroke-width="3.9"/>
<text x="890.5" y="2432.4" font-size="63.02" fill="#4D4D4D" text-anchor="middle" textLength="108.2" lengthAdjust="spacingAndGlyphs">-0.5</text>
<line x1="1041.4" y1="2366.4" x2="1041.4" y2="2378.4" stroke="#333333" stroke-width="3.9"/>
<text x="1041.4" y="2432.4" font-size="63.02" fill="#4D4D4D" text-anchor="middle" textLength="88.11" lengthAdjust="spacingAndGlyphs">0.0</text>
<line x1="1192.3" y1="2366.4" x2="1192.3" y2="2378.4" stroke="#333333" stroke-width="3.9"/>
<text x="1192.3" y="2432.4" font-size="63.02" fill="#4D4D4D" text-anchor="middle" textLength="88.11" lengthAdjust="spacingAndGlyphs">0.5</text>
<line x1="1343.2" y1="2366.4" x2="1343.2" y2="2378.4" stroke="#333333" stroke-width="3.9"/>
<text x="1343.2" y="2432.4" font-size="63.02" fill="#4D4D4D" text-anchor="middle" textLength="88.11" lengthAdjust="spacingAndGlyphs">1.0</text>
<rect x="1718.3" y="1412.8" width="1035.8" height="953.6" fill="#FFFFFF"/>
<line x1="1850.55" y1="1412.8" x2="1850.55" y2="2366.4" stroke="#EBEBEB" stroke-width="2.1"/>
<line x1="2001.45" y1="1412.8" x2="2001.45" y2="2366.4" stroke="#EBEBEB" stroke-width="2.1"/>
<line x1="2152.35" y1="1412.8" x2="2152.35" y2="2366.4" stroke="#EBEBEB" stroke-width="2.1"/>
<line x1="2303.25" y1="1412.8" x2="2303.25" y2="2366.4" stroke="#EBEBEB" stroke-width="2.1"/>
<line x1="2454.15" y1="1412.8" x2="2454.15" y2="2366.4" stroke="#EBEBEB" stroke-width="2.1"/>
<line x1="2605.05" y1="1412.8" x2="2605.05" y2="2366.4" stroke="#EBEBEB" stroke-width="2.1"/>
<line x1="1775.1" y1="1412.8" x2="1775.1" y2="2366.4" stroke="#EBEBEB" stroke-width="4.1"/>
<line x1="1926" y1="1412.8" x2="1926" y2="2366.4" stroke="#EBEBEB" stroke-width="4.1"/>
<line x1="2076.9" y1="1412.8" x2="2076.9" y2="2366.4" stroke="#EBEBEB" stroke-width="4.1"/>
<line x1="2227.8" y1="1412.8" x2="2227.8" y2="2366.4" stroke="#EBEBEB" stroke-width="4.1"/>
<line x1="2378.7" y1="1412.8" x2="2378.7" y2="2366.4" stroke="#EBEBEB" stroke-width="4.1"/>
<line x1="2529.6" y1="1412.8" x2="2529.6" y2="2366.4" stroke="#EBEBEB" stroke-width="4.1"/>
<line x1="2680.5" y1="1412.8" x2="2680.5" y2="2366.4" stroke="#EBEBEB" stroke-width="4.1"/>
<line x1="1718.3" y1="1554.39" x2="2754.1" y2="1554.39" stroke="#EBEBEB" stroke-width="4.1"/>
<line x1="1718.3" y1="1778.2" x2="2754.1" y2="1778.2" stroke="#EBEBEB" stroke-width="4.1"/>
<line x1="1718.3" y1="2002" x2="2754.1" y2="2002" stroke="#EBEBEB" stroke-width="4.1"/>
<line x1="1718.3" y1="2225.81" x2="2754.1" y2="2225.81" stroke="#EBEBEB" stroke-width="4.1"/>
<line x1="2589.96" y1="1554.39" x2="2583.92" y2="1554.39" stroke="#000000" stroke-width="4.4"/>
<polyline points="2614.67,1536.64 2583.92,1554.39 2614.67,1572.14" fill="none" stroke="#000000" stroke-width="4.4" stroke-linejoin="round"/>
<line x1="2635.98" y1="1778.2" x2="2626.93" y2="1778.2" stroke="#000000" stroke-width="4.4"/>
<polyline points="2657.67,1760.45 2626.93,1778.2 2657.67,1795.95" fill="none" stroke="#000000" stroke-width="4.4" stroke-linejoin="round"/>
<line x1="2586.04" y1="2002" x2="2552.84" y2="2002" stroke="#000000" stroke-width="4.4"/>
<polyline points="2583.58,1984.25 2552.84,2002 2583.58,2019.75" fill="none" stroke="#000000" stroke-width="4.4" stroke-linejoin="round"/>
<line x1="2725.17" y1="2225.81" x2="2655.75" y2="2225.81" stroke="#000000" stroke-width="4.4"/>
<polyline points="2686.5,2208.06 2655.75,2225.81 2686.5,2243.56" fill="none" stroke="#000000" stroke-width="4.4" stroke-linejoin="round"/>
<text x="2586.94" y="1543.39" font-size="54.04" fill="#FF0000" text-anchor="middle" textLength="123.37" lengthAdjust="spacingAndGlyphs">-0.02</text>
<text x="2631.46" y="1767.2" font-size="54.04" fill="#FF0000" text-anchor="middle" textLength="123.37" lengthAdjust="spacingAndGlyphs">-0.03</text>
<text x="2569.44" y="1991" font-size="54.04" fill="#FF0000" text-anchor="middle" textLength="123.37" lengthAdjust="spacingAndGlyphs">-0.11</text>
<text x="2690.46" y="2214.81" font-size="54.04" fill="#FF0000" text-anchor="middle" textLength="123.37" lengthAdjust="spacingAndGlyphs">-0.23</text>
<line x1="1775.1" y1="1415" x2="1775.1" y2="2366.4" stroke="#000000" stroke-width="2.6" stroke-dasharray="9 8.8"/>
<line x1="2076.9" y1="1415" x2="2076.9" y2="2366.4" stroke="#000000" stroke-width="2.6" stroke-dasharray="9 8.8"/>
<line x1="2680.5" y1="1415" x2="2680.5" y2="2366.4" stroke="#000000" stroke-width="2.6" stroke-dasharray="9 8.8"/>
<line x1="2378.7" y1="1412.8" x2="2378.7" y2="2366.4" stroke="#000000" stroke-width="4.5"/>
<rect x="1718.3" y="1412.8" width="1035.8" height="953.6" fill="none" stroke="#333333" stroke-width="2.1"/>
<rect x="1718.3" y="1207.6" width="1035.8" height="203.4" fill="#D9D9D9" stroke="#333333" stroke-width="2.1"/>
<text x="2236.2" y="1294" font-size="84.54" fill="#1A1A1A" text-anchor="middle" textLength="666" lengthAdjust="spacingAndGlyphs">Southern Europe</text>
<text x="1891.94" y="1382.8" font-size="84.54" fill="#1A1A1A" text-anchor="start" textLength="405.94" lengthAdjust="spacingAndGlyphs">-0.15 (0.99</text>
<path transform="translate(2319.65 1382.8) scale(83.7)" d="M0.0416,-0.176L0.408,-0.176L0.352,-0.271L0.379,-0.273L0.507,-0.162L0.379,-0.049L0.352,-0.049L0.408,-0.143L0.0416,-0.143Z" fill="#1A1A1A"/>
<text x="2389.29" y="1382.8" font-size="84.54" fill="#1A1A1A" text-anchor="start" textLength="191.17" lengthAdjust="spacingAndGlyphs">0.84)</text>
<line x1="1705.7" y1="1554.39" x2="1718.3" y2="1554.39" stroke="#333333" stroke-width="3.9"/>
<text x="1696.9" y="1576.89" font-size="63.02" fill="#4D4D4D" text-anchor="end" textLength="251.85" lengthAdjust="spacingAndGlyphs">Portugal</text>
<line x1="1705.7" y1="1778.2" x2="1718.3" y2="1778.2" stroke="#333333" stroke-width="3.9"/>
<text x="1696.9" y="1800.7" font-size="63.02" fill="#4D4D4D" text-anchor="end" textLength="162.3" lengthAdjust="spacingAndGlyphs">Spain</text>
<line x1="1705.7" y1="2002" x2="1718.3" y2="2002" stroke="#333333" stroke-width="3.9"/>
<text x="1696.9" y="2024.5" font-size="63.02" fill="#4D4D4D" text-anchor="end" textLength="205.48" lengthAdjust="spacingAndGlyphs">Greece</text>
<line x1="1705.7" y1="2225.81" x2="1718.3" y2="2225.81" stroke="#333333" stroke-width="3.9"/>
<text x="1696.9" y="2248.31" font-size="63.02" fill="#4D4D4D" text-anchor="end" textLength="126.61" lengthAdjust="spacingAndGlyphs">Italy</text>
<line x1="1775.1" y1="2366.4" x2="1775.1" y2="2378.4" stroke="#333333" stroke-width="3.9"/>
<text x="1775.1" y="2432.4" font-size="63.02" fill="#4D4D4D" text-anchor="middle" textLength="108.2" lengthAdjust="spacingAndGlyphs">-2.0</text>
<line x1="1926" y1="2366.4" x2="1926" y2="2378.4" stroke="#333333" stroke-width="3.9"/>
<text x="1926" y="2432.4" font-size="63.02" fill="#4D4D4D" text-anchor="middle" textLength="108.2" lengthAdjust="spacingAndGlyphs">-1.5</text>
<line x1="2076.9" y1="2366.4" x2="2076.9" y2="2378.4" stroke="#333333" stroke-width="3.9"/>
<text x="2076.9" y="2432.4" font-size="63.02" fill="#4D4D4D" text-anchor="middle" textLength="108.2" lengthAdjust="spacingAndGlyphs">-1.0</text>
<line x1="2227.8" y1="2366.4" x2="2227.8" y2="2378.4" stroke="#333333" stroke-width="3.9"/>
<text x="2227.8" y="2432.4" font-size="63.02" fill="#4D4D4D" text-anchor="middle" textLength="108.2" lengthAdjust="spacingAndGlyphs">-0.5</text>
<line x1="2378.7" y1="2366.4" x2="2378.7" y2="2378.4" stroke="#333333" stroke-width="3.9"/>
<text x="2378.7" y="2432.4" font-size="63.02" fill="#4D4D4D" text-anchor="middle" textLength="88.11" lengthAdjust="spacingAndGlyphs">0.0</text>
<line x1="2529.6" y1="2366.4" x2="2529.6" y2="2378.4" stroke="#333333" stroke-width="3.9"/>
<text x="2529.6" y="2432.4" font-size="63.02" fill="#4D4D4D" text-anchor="middle" textLength="88.11" lengthAdjust="spacingAndGlyphs">0.5</text>
<line x1="2680.5" y1="2366.4" x2="2680.5" y2="2378.4" stroke="#333333" stroke-width="3.9"/>
<text x="2680.5" y="2432.4" font-size="63.02" fill="#4D4D4D" text-anchor="middle" textLength="88.11" lengthAdjust="spacingAndGlyphs">1.0</text>
<text x="633.63" y="2508.3" font-size="71.51" fill="#000000" text-anchor="start" textLength="2983.44" lengthAdjust="spacingAndGlyphs">log of GDP/capita as proportion of Latin America* (const 2021 int. USD, PPP), change 1990</text>
<path transform="translate(3635.48 2508.3) scale(70.8)" d="M0.0416,-0.176L0.408,-0.176L0.352,-0.271L0.379,-0.273L0.507,-0.162L0.379,-0.049L0.352,-0.049L0.408,-0.143L0.0416,-0.143Z" fill="#000000"/>
<text x="3694.38" y="2508.3" font-size="71.51" fill="#000000" text-anchor="start" textLength="161.99" lengthAdjust="spacingAndGlyphs">2024</text>
<text x="4109.5" y="2582.3" font-size="50.5" fill="#000000" text-anchor="end" textLength="1342.15" lengthAdjust="spacingAndGlyphs">source: data.worldbank.org/indicator/NY.GDP.PCAP.PP.KD</text>
<text x="4109.5" y="2636.08" font-size="50.5" fill="#000000" text-anchor="end" textLength="922.5" lengthAdjust="spacingAndGlyphs">*weighted average of Argentina, Brazil,</text>
<text x="4109.5" y="2689.86" font-size="50.5" fill="#000000" text-anchor="end" textLength="913.25" lengthAdjust="spacingAndGlyphs">Chile, Colombia, Costa Rica, Dominican</text>
<text x="4109.5" y="2743.64" font-size="50.5" fill="#000000" text-anchor="end" textLength="826.1" lengthAdjust="spacingAndGlyphs">Republic, Ecuador, Jamaica, Mexico,</text>
<text x="4109.5" y="2797.42" font-size="50.5" fill="#000000" text-anchor="end" textLength="667.35" lengthAdjust="spacingAndGlyphs">Panama, Paraguay, Uruguay</text>
</svg>
</body></html>
